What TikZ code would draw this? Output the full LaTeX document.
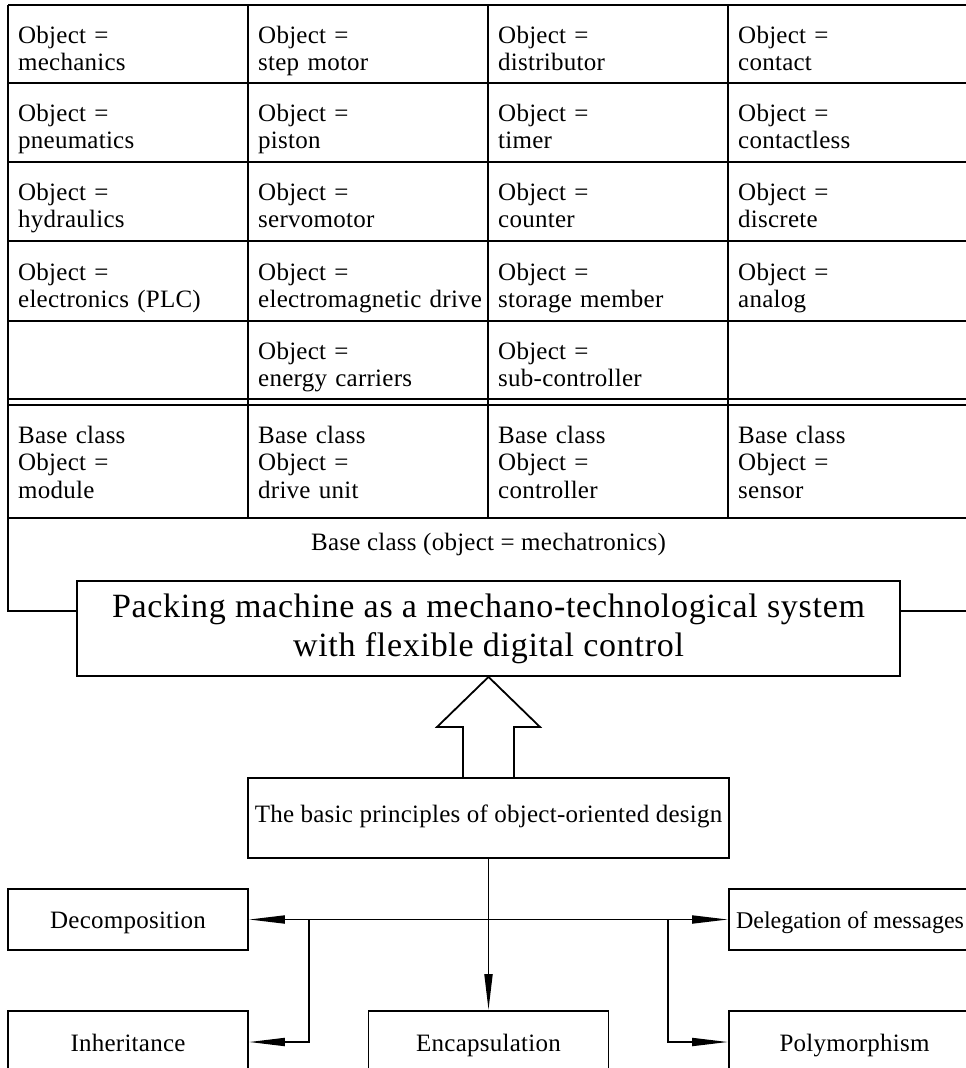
\documentclass[tikz,border=0pt]{standalone}
\usepackage{fontspec}
\setmainfont{Liberation Serif}
\newfontfamily\cellfam{Liberation Serif}[LetterSpace=1.0]
\newfontfamily\bigfam{Liberation Serif}[LetterSpace=2.1]
\usetikzlibrary{arrows.meta,calc}
\newcommand\cellfont{\cellfam\fontsize{25}{27.5}\selectfont}
\newcommand\bigfont{\bigfam\fontsize{34}{39}\selectfont}
\newcommand\delfont{\rmfamily\fontsize{24}{27}\selectfont}
\begin{document}
\begin{tikzpicture}[x=1pt,y=-1pt,
  ln/.style={line width=1.8pt,line join=miter},
  cell/.style={anchor=base west,inner sep=0pt,text width=236pt,align=left,font=\cellfont},
  boxnode/.style={draw,line width=1.8pt,inner sep=0pt,font=\cellfont},
  lowbox/.style={boxnode,minimum width=240pt,minimum height=61pt,text height=21pt,text depth=2.5pt},
  arr/.style={ln,-{Triangle[length=36pt,width=8pt]}},
  arrboth/.style={ln,{Triangle[length=36pt,width=8pt]}-{Triangle[length=36pt,width=8pt]}}]
\useasboundingbox (0,0) rectangle (966,1068);
% table grid
\foreach \yy in {5,83,162,241,321,399,405,518}{\draw[ln] (8,\yy) -- (990,\yy);}
\foreach \xx in {248,488,728}{\draw[ln] (\xx,5) -- (\xx,518);}
% cell texts
\node[cell] (c11) at (18,43) {Object =\\mechanics};
\node[cell] (c12) at (258,43) {Object =\\step motor};
\node[cell] (c13) at (498,43) {Object =\\distributor};
\node[cell] (c14) at (738,43) {Object =\\contact};
\node[cell] (c21) at (18,121) {Object =\\pneumatics};
\node[cell] (c22) at (258,121) {Object =\\piston};
\node[cell] (c23) at (498,121) {Object =\\timer};
\node[cell] (c24) at (738,121) {Object =\\contactless};
\node[cell] (c31) at (18,200) {Object =\\hydraulics};
\node[cell] (c32) at (258,200) {Object =\\servomotor};
\node[cell] (c33) at (498,200) {Object =\\counter};
\node[cell] (c34) at (738,200) {Object =\\discrete};
\node[cell] (c41) at (18,280) {Object =\\electronics (PLC)};
\node[cell] (c42) at (258,280) {Object =\\electromagnetic drive};
\node[cell] (c43) at (498,280) {Object =\\storage member};
\node[cell] (c44) at (738,280) {Object =\\analog};
\node[cell] (c52) at (258,359) {Object =\\energy carriers};
\node[cell] (c53) at (498,359) {Object =\\sub-controller};
\node[cell] (b1) at (18,443) {Base class\\Object =\\module};
\node[cell] (b2) at (258,443) {Base class\\Object =\\drive unit};
\node[cell] (b3) at (498,443) {Base class\\Object =\\controller};
\node[cell] (b4) at (738,443) {Base class\\Object =\\sensor};
\node[anchor=base,inner sep=0pt,font=\cellfont] (mech) at (488.5,550) {Base class (object = mechatronics)};
% main box
\node[boxnode,font=\bigfont,align=center,minimum width=823pt,minimum height=95pt] (main) at (488.5,628.5)
  {Packing machine as a mechano-technological system\\with flexible digital control};
\coordinate (lj) at (8,611);
\draw[ln] (8,5) -- (lj) -- (main.west |- lj);
\draw[ln] (main.east |- lj) -- (990,611);
% principles
\node[boxnode,minimum width=481pt,minimum height=80pt,text height=17pt,text depth=9pt] (prin) at (488.5,818)
  {The basic principles of object-oriented design};
\draw[ln] (463,778) -- (463,727) -- (437,727) -- (main.south) -- (540,727) -- (514,727) -- (514,778);
% lower boxes
\node[lowbox] (dec) at (128,919.5) {Decomposition};
\node[lowbox,minimum width=242pt,font=\delfont] (del) at (850,919.5) {Delegation of messages};
\node[lowbox,minimum height=62pt] (inh) at (128,1042) {Inheritance};
\node[lowbox,minimum height=62pt] (enc) at (488.5,1042) {Encapsulation};
\node[lowbox,minimum width=251pt,minimum height=62pt] (pol) at (854.5,1042) {Polymorphism};
\coordinate (jl) at (309,919.5);
\coordinate (jr) at (668,919.5);
\draw[arrboth] (dec.east) -- (del.west);
\draw[arr] (prin.south) -- (enc.north);
\draw[arr] (jl) |- (inh.east);
\draw[arr] (jr) |- (pol.west);
\end{tikzpicture}
\end{document}
